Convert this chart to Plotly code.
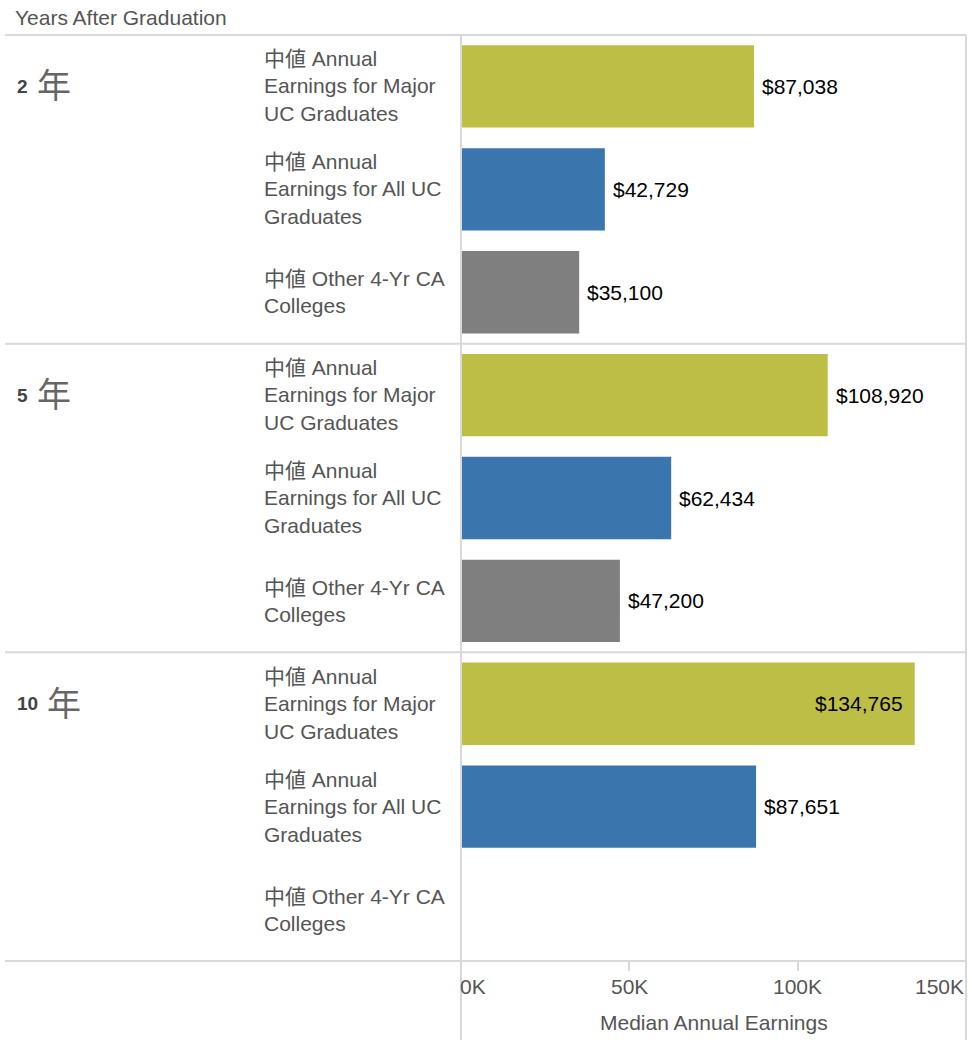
import plotly.graph_objects as go

# ---- data ----
years = ["2", "5", "10"]
year_unit = "年"
measures = [
    "中値 Annual<br>Earnings for Major<br>UC Graduates",
    "中値 Annual<br>Earnings for All UC<br>Graduates",
    "中値 Other 4-Yr CA<br>Colleges",
]
major_uc = [87038, 108920, 134765]
all_uc = [42729, 62434, 87651]
other_ca = [35100, 47200, None]
series_colors = ["#BDBE46", "#3A75AE", "#7F7F7F"]
tick_vals = [0, 50000, 100000, 150000]
tick_text = ["0K", "50K", "100K", "150K"]
x_title = "Median Annual Earnings"
row_header = "Years After Graduation"

W, H = 972, 1060
FONT = "Arial, 'Liberation Sans', 'Noto Sans CJK JP', sans-serif"
GRID = "#d9d9d9"
TXT = "#555555"

series = [major_uc, all_uc, other_ca]

xs, ys, cols, labels = [], [], [], []
for gi in range(len(years)):
    for si in range(len(series)):
        xs.append(series[si][gi])
        ys.append(gi * len(series) + si)
        cols.append(series_colors[si])
        labels.append(measures[si])

nrows = len(ys)
px2x = lambda p: p / W
px2y = lambda p: 1 - p / H

top_px, bot_px, left_px, right_px = 35, 961, 461, 966

fig = go.Figure()
fig.add_trace(go.Bar(
    x=xs, y=ys, orientation="h", marker=dict(color=cols, line=dict(width=0)),
    width=0.8, hoverinfo="skip", showlegend=False,
))

annotations = []
# header
annotations.append(dict(x=px2x(13), y=px2y(18), xref="paper", yref="paper",
                        text=row_header, showarrow=False, xanchor="left", yanchor="middle",
                        font=dict(size=21, color=TXT, family=FONT)))
# year labels
for gi, yr in enumerate(years):
    annotations.append(dict(
        x=px2x(15), y=gi * len(series), xref="paper", yref="y",
        text=f"<b>{yr}</b>", showarrow=False, xanchor="left", yanchor="middle",
        font=dict(family=FONT, size=19, color="#444444")))
    annotations.append(dict(
        x=px2x(15 + 10.5 * len(yr) + 9), y=gi * len(series), xref="paper", yref="y",
        text=year_unit, showarrow=False, xanchor="left", yanchor="middle",
        font=dict(family=FONT, size=34, color="#666666")))
# measure labels
for yv, lab in zip(ys, labels):
    annotations.append(dict(x=px2x(262), y=yv, xref="paper", yref="y", text=lab,
                            showarrow=False, xanchor="left", yanchor="middle", align="left",
                            font=dict(size=21, color=TXT, family=FONT)))
# value labels
for xv, yv in zip(xs, ys):
    if xv is None:
        continue
    inside = xv > 0.85 * tick_vals[-1]
    annotations.append(dict(x=xv, y=yv, xref="x", yref="y", text=f"${xv:,.0f}",
                            showarrow=False, xanchor="right" if inside else "left",
                            xshift=-10 if inside else 6, yanchor="middle",
                            font=dict(size=21, color="#000000", family=FONT)))
# tick labels
for i, (tv, tt) in enumerate(zip(tick_vals, tick_text)):
    anchor = "left" if i == 0 else ("right" if i == len(tick_vals) - 1 else "center")
    annotations.append(dict(x=tv, y=px2y(986), xref="x", yref="paper", text=tt,
                            showarrow=False, xanchor=anchor, yanchor="middle",
                            xshift=-3 if i == 0 else 0,
                            font=dict(size=21, color=TXT, family=FONT)))
annotations.append(dict(x=sum(tick_vals[::len(tick_vals)-1]) / 2, y=px2y(1022), xref="x", yref="paper",
                        text=x_title, showarrow=False, xanchor="center", yanchor="middle",
                        font=dict(size=21, color=TXT, family=FONT)))

shapes = []
def line(x0, y0, x1, y1):
    shapes.append(dict(type="line", xref="paper", yref="paper",
                       x0=px2x(x0), y0=px2y(y0), x1=px2x(x1), y1=px2y(y1),
                       line=dict(color=GRID, width=2)))
line(5, top_px, right_px, top_px)
line(5, bot_px, right_px, bot_px)
for k in range(1, len(years)):
    yv = k * len(series) - 0.5
    shapes.append(dict(type="line", xref="paper", yref="y", x0=px2x(5), x1=px2x(right_px),
                       y0=yv, y1=yv, line=dict(color=GRID, width=2)))
line(left_px, top_px, left_px, 1040)
line(right_px, top_px, right_px, 1040)

fig.update_layout(
    width=W, height=H, margin=dict(l=0, r=0, t=0, b=0),
    paper_bgcolor="white", plot_bgcolor="white",
    bargap=0.2,
    xaxis=dict(domain=[px2x(left_px), px2x(right_px)], range=[0, tick_vals[-1]],
               tickvals=tick_vals[1:-1], ticks="outside", ticklen=9, tickcolor=GRID, tickwidth=2,
               showticklabels=False, showgrid=False, zeroline=False, showline=False, fixedrange=True),
    yaxis=dict(domain=[px2y(bot_px), px2y(top_px)], range=[nrows - 0.5, -0.5],
               showticklabels=False, showgrid=False, zeroline=False, showline=False, ticks=""),
    annotations=annotations, shapes=shapes,
    font=dict(family=FONT),
)

fig.write_html("out.html", config={"displayModeBar": False},
               post_script="document.body.style.margin='0';")
